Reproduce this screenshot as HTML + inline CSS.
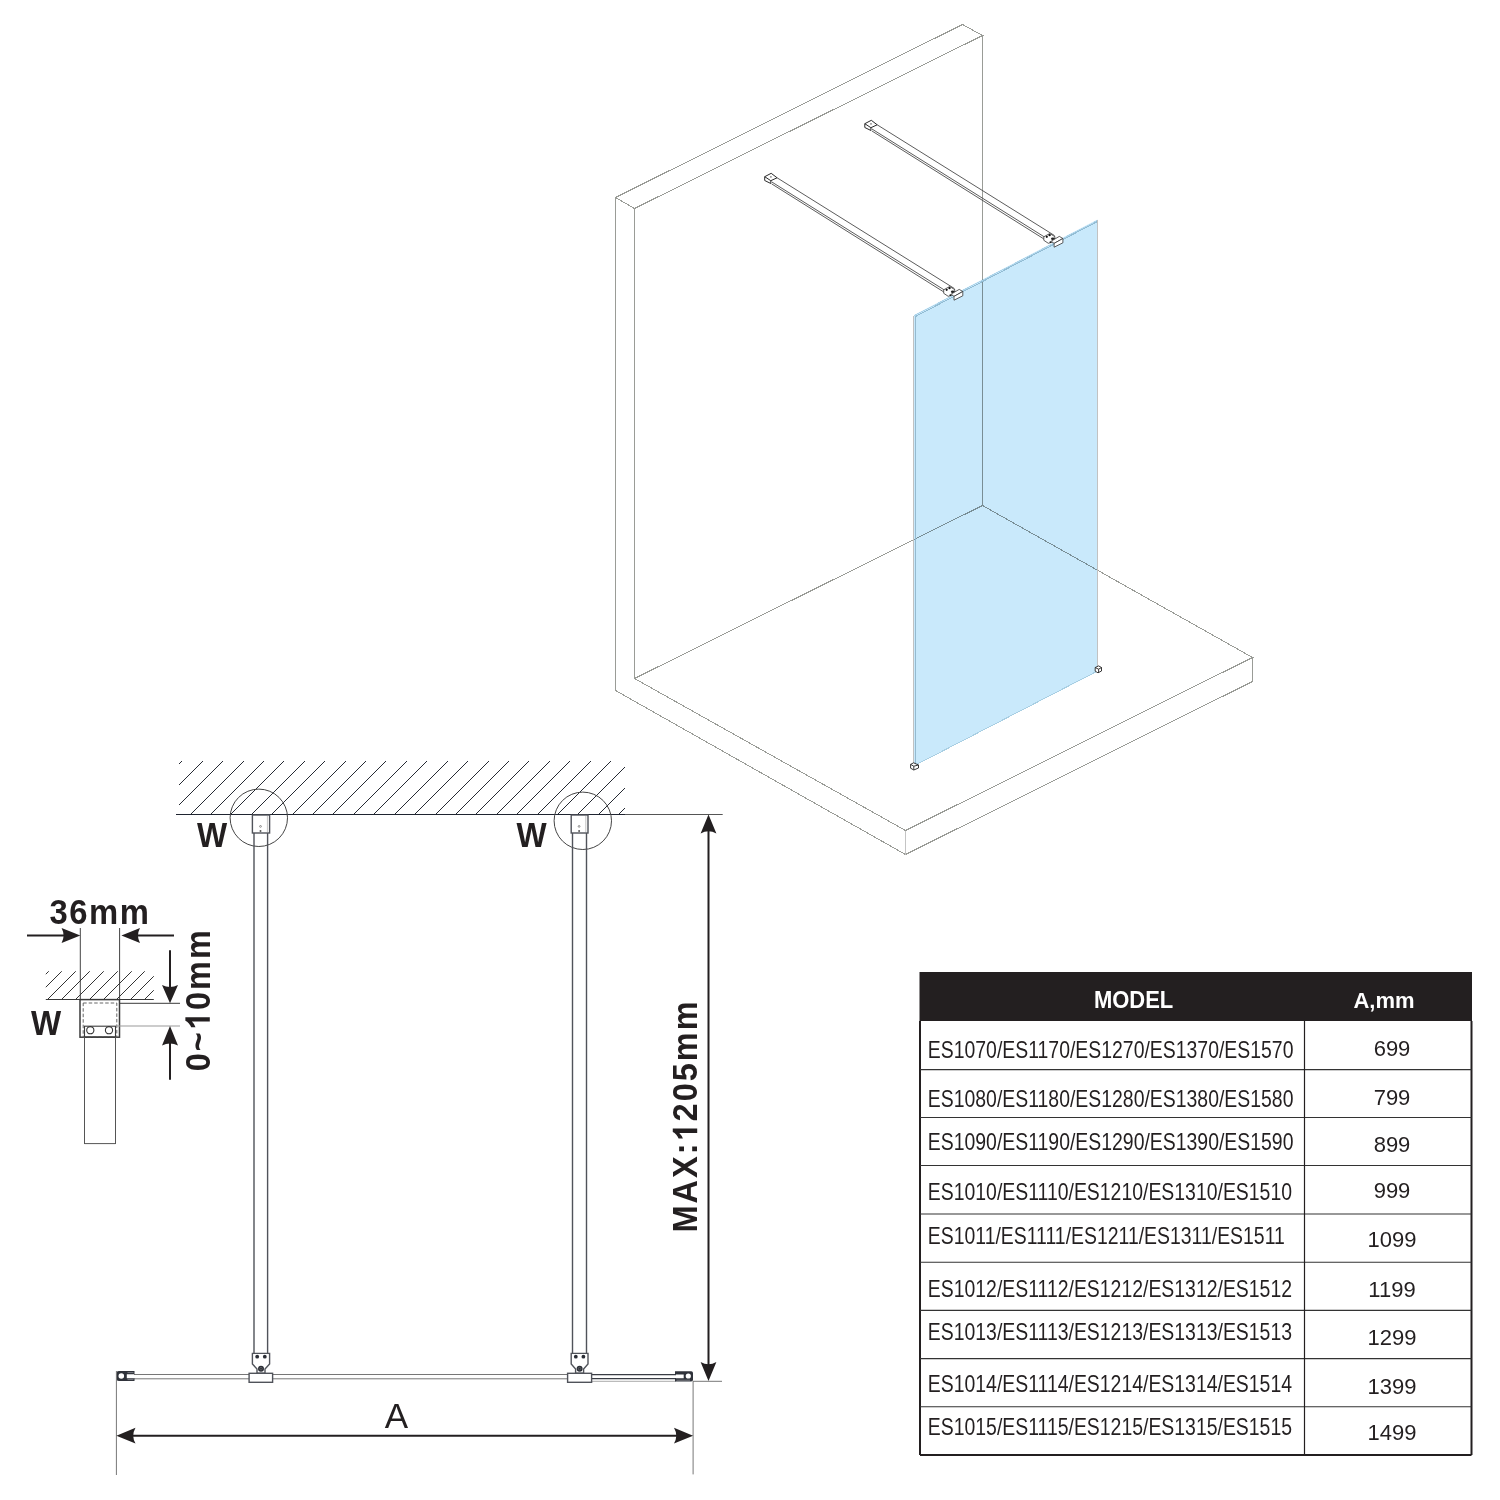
<!DOCTYPE html><html><head><meta charset="utf-8"><style>html,body{margin:0;padding:0;background:#fff;width:1500px;height:1500px;overflow:hidden}svg{display:block;will-change:transform}text{font-family:"Liberation Sans",sans-serif}</style></head><body><svg width="1500" height="1500" viewBox="0 0 1500 1500"><g fill="none" stroke="#9a9c97" stroke-width="1" shape-rendering="crispEdges"><path d="M615.5 197.5L962.5 24.5L982.5 35.5L634.5 208.5Z"/><path d="M615.5 197.5V690.5M634.5 208.5V678.5M982.5 35.5V505.5"/><path d="M634.5 678.5L905.5 830.5L1252.5 657.5L982.5 505.5L634.5 678.5"/><path d="M615.5 690.5L905.5 854.5L1252.5 681.5V657.5"/><path d="M905.5 830.5V854.5" stroke="#c4c4c4"/></g><path d="M914 315.1L1097.5 219.5V671.5L914 765.4Z" fill="#c9e9fb" stroke="none" style="mix-blend-mode:multiply"/><g fill="none" shape-rendering="crispEdges"><path d="M914.5 315.5L1097.5 220.5" stroke="#aed4ea" stroke-width="1"/><path d="M915.5 316.5L1097.5 221.5" stroke="#92bcd3" stroke-width="1"/><path d="M915.5 316.5V764.5" stroke="#94bad0" stroke-width="1"/><path d="M913.5 315.5V764.5M1097.5 219.5V666.5" stroke="#c2c2c2" stroke-width="1"/><path d="M916.5 764.5L1096.5 671.5" stroke="#a9cfe3" stroke-width="1"/></g><path d="M777.10 177.80L954.50 288.60M771.70 181.90L944.20 289.90M771.70 183.90L943.70 291.90" stroke="#4a4a4a" stroke-width="0.9" fill="none"/><g fill="#fff" stroke="#2a2a2a" stroke-width="1"><path d="M764.70 176.70L771.20 173.30L777.10 177.80L770.80 180.70Z"/><path d="M764.70 176.70V180.50L770.80 183.50V180.70" fill="none"/><circle cx="770.90" cy="176.90" r="0.8" fill="#777" stroke="none"/></g><path d="M943.70 289.80L949.70 286.50L955.00 289.80L953.20 294.80L948.20 296.30L943.70 293.30Z" fill="#fff" stroke="#333" stroke-width="0.8"/><circle cx="949.50" cy="288.10" r="1.2" fill="#111"/><circle cx="946.70" cy="289.80" r="1.1" fill="#111"/><ellipse cx="952.70" cy="291.80" rx="1.8" ry="1.3" fill="#222"/><circle cx="950.40" cy="295.10" r="0.9" fill="#111"/><g fill="#fff" stroke="#333" stroke-width="0.8"><path d="M951.20 294.10L959.20 289.40L962.80 291.50L954.00 296.40Z"/><path d="M954.00 296.40L962.80 291.50V295.80L954.00 300.20Z"/></g><path d="M877.20 124.80L1054.60 235.60M871.80 128.90L1044.30 236.90M871.80 130.90L1043.80 238.90" stroke="#4a4a4a" stroke-width="0.9" fill="none"/><g fill="#fff" stroke="#2a2a2a" stroke-width="1"><path d="M864.80 123.70L871.30 120.30L877.20 124.80L870.90 127.70Z"/><path d="M864.80 123.70V127.50L870.90 130.50V127.70" fill="none"/><circle cx="871.00" cy="123.90" r="0.8" fill="#777" stroke="none"/></g><path d="M1043.80 236.80L1049.80 233.50L1055.10 236.80L1053.30 241.80L1048.30 243.30L1043.80 240.30Z" fill="#fff" stroke="#333" stroke-width="0.8"/><circle cx="1049.60" cy="235.10" r="1.2" fill="#111"/><circle cx="1046.80" cy="236.80" r="1.1" fill="#111"/><ellipse cx="1052.80" cy="238.80" rx="1.8" ry="1.3" fill="#222"/><circle cx="1050.50" cy="242.10" r="0.9" fill="#111"/><g fill="#fff" stroke="#333" stroke-width="0.8"><path d="M1051.30 241.10L1059.30 236.40L1062.90 238.50L1054.10 243.40Z"/><path d="M1054.10 243.40L1062.90 238.50V242.80L1054.10 247.20Z"/></g><g fill="#fff" stroke="#222" stroke-width="0.9"><path d="M910.6 764.4L913.6 762.8L918.5 765V768L913.8 770L910.6 768.2Z"/><path d="M910.6 764.4L913.8 766.2L918.5 765M913.8 766.2V769.8" fill="none"/><path d="M1095.2 667.5L1098.6 665.9L1101.5 667.5V671L1098 672.8L1095.2 671.2Z"/><path d="M1095.2 667.5L1098.6 669.2L1101.5 667.5M1098.6 669.2V672.6" fill="none"/></g><clipPath id="hc1"><rect x="179" y="761" width="446" height="53.5"/></clipPath><path clip-path="url(#hc1)" d="M87.50 814.50L143.50 758.50M108.50 814.50L164.50 758.50M128.50 814.50L184.50 758.50M149.50 814.50L205.50 758.50M169.50 814.50L225.50 758.50M190.50 814.50L246.50 758.50M210.50 814.50L266.50 758.50M230.50 814.50L286.50 758.50M251.50 814.50L307.50 758.50M271.50 814.50L327.50 758.50M292.50 814.50L348.50 758.50M312.50 814.50L368.50 758.50M332.50 814.50L388.50 758.50M353.50 814.50L409.50 758.50M373.50 814.50L429.50 758.50M394.50 814.50L450.50 758.50M414.50 814.50L470.50 758.50M435.50 814.50L491.50 758.50M455.50 814.50L511.50 758.50M475.50 814.50L531.50 758.50M496.50 814.50L552.50 758.50M516.50 814.50L572.50 758.50M537.50 814.50L593.50 758.50M557.50 814.50L613.50 758.50M577.50 814.50L633.50 758.50M598.50 814.50L654.50 758.50M618.50 814.50L674.50 758.50" stroke="#262a33" stroke-width="1" fill="none" shape-rendering="crispEdges"/><path d="M176 814.5H625" stroke="#1f2430" stroke-width="1.1" fill="none"/><path d="M625 814.5H722.7" stroke="#555" stroke-width="1" fill="none"/><circle cx="258.8" cy="817.8" r="28.7" fill="none" stroke="#444" stroke-width="1"/><circle cx="582.8" cy="820.8" r="28.7" fill="none" stroke="#444" stroke-width="1"/><path d="M134 1374.5H249M272.6 1374.5H567.6M134 1378.8H249M272.6 1378.8H567.6" stroke="#777" stroke-width="1" fill="none"/><path d="M591.6 1374.6H676M591.6 1378.6H676" stroke="#3a3d45" stroke-width="1.4" fill="none"/><path d="M591.6 1381.3H676" stroke="#aaa" stroke-width="1" fill="none"/><g fill="none" stroke="#50535a" stroke-width="1.4"><path d="M254 833V1353.4M267.6 833V1353.4"/><rect x="252.4" y="815.0" width="17.200000000000017" height="18.0" fill="#fff"/><path d="M252.4 1353.4H269.6V1363.9L265.0 1369V1373.3H257.0V1369L252.4 1363.9Z" fill="#fff"/><rect x="249.1" y="1373.3" width="23.50000000000003" height="9" fill="#fff"/></g><circle cx="257.2" cy="1356.7" r="1.9" fill="#2a2d35"/><circle cx="264.8" cy="1356.7" r="1.9" fill="#2a2d35"/><circle cx="261.0" cy="1368.7" r="3" fill="#2a2d35"/><circle cx="261.0" cy="1368.7" r="1.3" fill="none" stroke="#777" stroke-width="0.6"/><circle cx="260.5" cy="826.4" r="0.9" fill="none" stroke="#666" stroke-width="0.7"/><circle cx="260.5" cy="830.9" r="1" fill="#555"/><path d="M267.40000000000003 816.0V832" stroke="#c4c4c4" stroke-width="1" fill="none"/><g fill="none" stroke="#50535a" stroke-width="1.4"><path d="M572.5 833V1353.4M586.5 833V1353.4"/><rect x="571.2" y="815.0" width="16.799999999999955" height="18.0" fill="#fff"/><path d="M571.2 1353.4H588V1363.9L583.6 1369V1373.3H575.6V1369L571.2 1363.9Z" fill="#fff"/><rect x="567.6" y="1373.3" width="24.0" height="9" fill="#fff"/></g><circle cx="575.8000000000001" cy="1356.7" r="1.9" fill="#2a2d35"/><circle cx="583.4" cy="1356.7" r="1.9" fill="#2a2d35"/><circle cx="579.6" cy="1368.7" r="3" fill="#2a2d35"/><circle cx="579.6" cy="1368.7" r="1.3" fill="none" stroke="#777" stroke-width="0.6"/><circle cx="579.1" cy="826.4" r="0.9" fill="none" stroke="#666" stroke-width="0.7"/><circle cx="579.1" cy="830.9" r="1" fill="#555"/><path d="M585.8 816.0V832" stroke="#c4c4c4" stroke-width="1" fill="none"/><path fill-rule="evenodd" fill="#2f323a" d="M118.8 1371.1H134.5V1374.3H126.8V1378.3H134.5V1381H118.8Q116.5 1381 116.5 1378.7V1373.4Q116.5 1371.1 118.8 1371.1ZM124.1 1376A2.8 2.8 0 1 0 118.5 1376A2.8 2.8 0 1 0 124.1 1376Z"/><path d="M127.5 1372.6H133.5M127.5 1379.6H133.5" stroke="#8a8d93" stroke-width="0.8" fill="none"/><path fill-rule="evenodd" fill="#2f323a" d="M675 1371.3H691.2Q693 1371.3 693 1373.1V1379.8Q693 1381.6 691.2 1381.6H675V1378.3H683.7V1374.6H675ZM690.9 1376A2.6 2.6 0 1 0 685.7 1376A2.6 2.6 0 1 0 690.9 1376Z"/><path d="M676.5 1380.2H690" stroke="#8a8d93" stroke-width="0.8" fill="none"/><path d="M116.4 1371V1475M693.1 1381V1474.4M693 1381.3H722" stroke="#777" stroke-width="1" fill="none"/><path d="M130 1435.7H680" stroke="#231f20" stroke-width="2" fill="none"/><path d="M116.4 1435.7L135.5 1427.8Q131 1435.7 135.5 1443.6Z" fill="#231f20"/><path d="M693.1 1435.7L674 1427.8Q678.5 1435.7 674 1443.6Z" fill="#231f20"/><text x="396.5" y="1428.3" font-size="35" text-anchor="middle" fill="#231f20">A</text><path d="M708.5 828V1367" stroke="#231f20" stroke-width="2" fill="none"/><path d="M708.5 814.5L700.6 833.4Q708.5 829 716.4 833.4Z" fill="#231f20"/><path d="M708.5 1381L700.6 1362Q708.5 1366.5 716.4 1362Z" fill="#231f20"/><g transform="translate(697.2 1232.5) rotate(-90) scale(0.915 1)" fill="#231f20"><text font-size="35.5" font-weight="bold" letter-spacing="2.2">MAX: 205mm</text><path transform="translate(99.509 0) scale(0.017334 -0.017334)" d="M811 0H537V1032Q387 892 183 825V1073Q290 1108 416 1206Q542 1305 589 1409H811Z"/></g><text transform="translate(212 847) scale(0.9 1)" font-size="35.5" font-weight="bold" text-anchor="middle" fill="#231f20">W</text><text transform="translate(531.5 847) scale(0.9 1)" font-size="35.5" font-weight="bold" text-anchor="middle" fill="#231f20">W</text><text transform="translate(49.54 923.8) scale(0.925 1)" font-size="35.5" font-weight="bold" letter-spacing="1.65" text-anchor="start" fill="#231f20">36mm</text><path d="M80.3 928V1000M119.6 928V1000" stroke="#444" stroke-width="1" fill="none"/><path d="M27 935.4H66M129 935.6H174" stroke="#231f20" stroke-width="2" fill="none"/><path d="M80.3 935.4L61.6 927.9Q65.5 935.4 61.6 942.9Z" fill="#231f20"/><path d="M121.4 935.6L140 928.1Q136 935.6 140 943.1Z" fill="#231f20"/><clipPath id="hc2"><rect x="45.8" y="971.2" width="108.00000000000001" height="28.09999999999991"/></clipPath><path clip-path="url(#hc2)" d="M-7.50 999.50L23.50 968.50M6.50 999.50L37.50 968.50M20.50 999.50L51.50 968.50M33.50 999.50L64.50 968.50M47.50 999.50L78.50 968.50M61.50 999.50L92.50 968.50M75.50 999.50L106.50 968.50M89.50 999.50L120.50 968.50M103.50 999.50L134.50 968.50M116.50 999.50L147.50 968.50M130.50 999.50L161.50 968.50M144.50 999.50L175.50 968.50" stroke="#333" stroke-width="1" fill="none" shape-rendering="crispEdges"/><path d="M45.8 999.5H153.8" stroke="#3a3a3a" stroke-width="1.2" fill="none"/><rect x="80" y="999.6" width="39.5" height="37.6" fill="#fff" stroke="#3a3a3a" stroke-width="1.5"/><rect x="83.2" y="1003" width="33.6" height="34" fill="none" stroke="#666" stroke-width="1" stroke-dasharray="3.5 2"/><rect x="84.5" y="1026.2" width="31" height="10.8" fill="none" stroke="#3a3a3a" stroke-width="1.1"/><circle cx="90.3" cy="1030.2" r="3.6" fill="#fff" stroke="#333" stroke-width="1.1"/><circle cx="109" cy="1030.2" r="3.6" fill="#fff" stroke="#333" stroke-width="1.1"/><path d="M84.5 1037.2V1144M115.5 1037.2V1144M84.5 1143.6H115.5" stroke="#555" stroke-width="1" fill="none"/><path d="M119.5 1003.3H180" stroke="#3a3a3a" stroke-width="1" fill="none"/><path d="M116 1026H180" stroke="#999" stroke-width="1" fill="none"/><path d="M170 950.3V990M170 1040V1079.8" stroke="#231f20" stroke-width="2" fill="none"/><path d="M170 1003.3L162 985Q170 989 178 985Z" fill="#231f20"/><path d="M170 1026L162 1045.5Q170 1041.5 178 1045.5Z" fill="#231f20"/><text transform="translate(46.2 1034.7) scale(0.9 1)" font-size="35.5" font-weight="bold" text-anchor="middle" fill="#231f20">W</text><g transform="translate(209.8 1071.2) rotate(-90) scale(0.915 1)" fill="#231f20"><text font-size="35.5" font-weight="bold" letter-spacing="2.2">0~ 0mm</text><path transform="translate(44.875 0) scale(0.017334 -0.017334)" d="M811 0H537V1032Q387 892 183 825V1073Q290 1108 416 1206Q542 1305 589 1409H811Z"/></g><rect x="919.5" y="972" width="552.5" height="49" fill="#231f20"/><g stroke="#231f20" fill="none"><path d="M920 1021V1455M1471.5 1021V1455" stroke-width="2"/><path d="M920 1455H1471.5" stroke-width="2"/><path d="M920 1069.6H1471.5" stroke-width="1.1" stroke="#333"/><path d="M920 1117.5H1471.5" stroke-width="1.1" stroke="#333"/><path d="M920 1165.5H1471.5" stroke-width="1.1" stroke="#333"/><path d="M920 1214H1471.5" stroke-width="1.1" stroke="#333"/><path d="M920 1262.2H1471.5" stroke-width="1.1" stroke="#333"/><path d="M920 1310.4H1471.5" stroke-width="1.1" stroke="#333"/><path d="M920 1358.6H1471.5" stroke-width="1.1" stroke="#333"/><path d="M920 1406.7H1471.5" stroke-width="1.1" stroke="#333"/><path d="M1304.5 1021V1455" stroke-width="1.2"/></g><text transform="translate(1133.6 1008.2) scale(0.925 1)" font-size="23.8" font-weight="bold" text-anchor="middle" fill="#fff">MODEL</text><text transform="translate(1384 1008.3) scale(0.974 1)" font-size="22.6" font-weight="bold" text-anchor="middle" fill="#fff">A,mm</text><text transform="translate(927.8 1057.7) scale(0.834 1)" font-size="23.3" text-anchor="start" fill="#231f20">ES1070/ES1170/ES1270/ES1370/ES1570</text><text transform="translate(927.8 1106.7) scale(0.834 1)" font-size="23.3" text-anchor="start" fill="#231f20">ES1080/ES1180/ES1280/ES1380/ES1580</text><text transform="translate(927.8 1150.2) scale(0.834 1)" font-size="23.3" text-anchor="start" fill="#231f20">ES1090/ES1190/ES1290/ES1390/ES1590</text><text transform="translate(927.8 1200.2) scale(0.834 1)" font-size="23.3" text-anchor="start" fill="#231f20">ES1010/ES1110/ES1210/ES1310/ES1510</text><text transform="translate(927.8 1244.2) scale(0.834 1)" font-size="23.3" text-anchor="start" fill="#231f20">ES1011/ES1111/ES1211/ES1311/ES1511</text><text transform="translate(927.8 1296.7) scale(0.834 1)" font-size="23.3" text-anchor="start" fill="#231f20">ES1012/ES1112/ES1212/ES1312/ES1512</text><text transform="translate(927.8 1340.4) scale(0.834 1)" font-size="23.3" text-anchor="start" fill="#231f20">ES1013/ES1113/ES1213/ES1313/ES1513</text><text transform="translate(927.8 1392.0) scale(0.834 1)" font-size="23.3" text-anchor="start" fill="#231f20">ES1014/ES1114/ES1214/ES1314/ES1514</text><text transform="translate(927.8 1435.4) scale(0.834 1)" font-size="23.3" text-anchor="start" fill="#231f20">ES1015/ES1115/ES1215/ES1315/ES1515</text><text x="1392" y="1055.9" font-size="22" text-anchor="middle" fill="#231f20">699</text><text x="1392" y="1104.9" font-size="22" text-anchor="middle" fill="#231f20">799</text><text x="1392" y="1151.7" font-size="22" text-anchor="middle" fill="#231f20">899</text><text x="1392" y="1198.4" font-size="22" text-anchor="middle" fill="#231f20">999</text><text x="1392" y="1246.7" font-size="22" text-anchor="middle" fill="#231f20">1099</text><text x="1392" y="1296.6000000000001" font-size="22" text-anchor="middle" fill="#231f20">1199</text><text x="1392" y="1344.9" font-size="22" text-anchor="middle" fill="#231f20">1299</text><text x="1392" y="1393.9" font-size="22" text-anchor="middle" fill="#231f20">1399</text><text x="1392" y="1440.4" font-size="22" text-anchor="middle" fill="#231f20">1499</text></svg></body></html>
